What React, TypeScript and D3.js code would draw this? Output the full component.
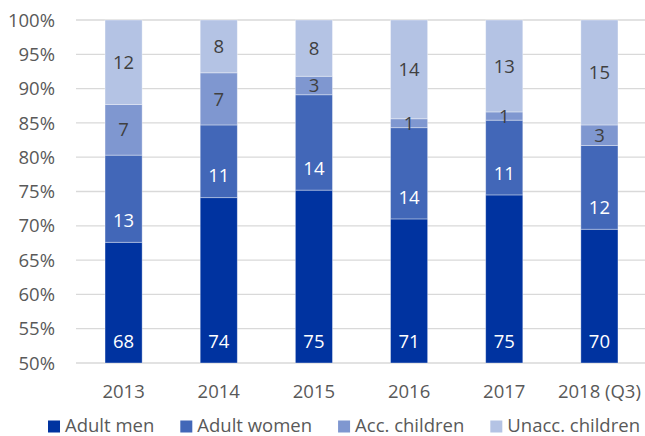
import * as d3 from "d3";
import { useRef, useEffect } from "react";

const years = ["2013", "2014", "2015", "2016", "2017", "2018 (Q3)"];
const keys = ["men", "women", "acc", "unacc"];
const seriesNames = ["Adult men", "Adult women", "Acc. children", "Unacc. children"];

// shares in %
const adultMen = [67.6, 74.1, 75.2, 71.0, 74.5, 69.5];
const adultWomen = [12.7, 10.6, 13.9, 13.3, 10.9, 12.2];
const accChildren = [7.4, 7.6, 2.7, 1.3, 1.2, 3.0];
const unaccChildren = [12.3, 7.7, 8.2, 14.4, 13.4, 15.3];

// printed labels
const menLabels = [68, 74, 75, 71, 75, 70];
const womenLabels = [13, 11, 14, 14, 11, 12];
const accLabels = [7, 7, 3, 1, 1, 3];
const unaccLabels = [12, 8, 8, 14, 13, 15];

const yTicks = [0.5, 0.55, 0.6, 0.65, 0.7, 0.75, 0.8, 0.85, 0.9, 0.95, 1];

const colors = ["#0033a0", "#4267b8", "#7f97d0", "#b4c3e4"];
const labelColors = ["#ffffff", "#ffffff", "#404040", "#404040"];
const font = "'Open Sans', sans-serif";
const fs = 18.5;

export default function App() {
  const width = 645;
  const height = 436;
  const marginLeft = 76;
  const marginRight = -2;
  const marginTop = 20;
  const marginBottom = 73;
  const legendRef = useRef<SVGGElement>(null);

  const rows = years.map((y, i) => ({
    year: y,
    men: adultMen[i],
    women: adultWomen[i],
    acc: accChildren[i],
    unacc: unaccChildren[i],
  }));
  const labels = [menLabels, womenLabels, accLabels, unaccLabels];

  const stack = d3.stack<any>().keys(keys).offset(d3.stackOffsetExpand);
  const series = stack(rows);

  const x = d3
    .scaleBand()
    .domain(years)
    .range([marginLeft, width - marginRight])
    .paddingInner(0.61)
    .paddingOuter(0.305);

  const y = d3
    .scaleLinear()
    .domain([0.5, 1])
    .range([height - marginBottom, marginTop])
    .clamp(true);

  const fmt = d3.format(".0%");

  useEffect(() => {
    const g = d3.select(legendRef.current);
    g.selectAll("*").remove();
    const items = g
      .selectAll("g")
      .data(seriesNames)
      .join("g");
    items
      .append("rect")
      .attr("width", 12)
      .attr("height", 12)
      .attr("y", -11.5)
      .attr("fill", (d, i) => colors[i]);
    items
      .append("text")
      .attr("x", 17)
      .attr("font-family", font)
      .attr("font-size", fs)
      .attr("fill", "#595959")
      .text((d) => d);
    const widths = items.nodes().map((n) => 17 + (n.querySelector("text") as SVGTextElement).getComputedTextLength());
    const gap = 26;
    const total = d3.sum(widths) + gap * (widths.length - 1);
    let cur = 344 - total / 2;
    items.attr("transform", (d, i) => {
      const t = `translate(${cur},0)`;
      cur += widths[i] + gap;
      return t;
    });
  }, []);

  return (
    <svg width={width} height={height} style={{ position: "absolute", left: 0, top: 0 }}>
      <rect width={width} height={height} fill="white" />
      <g>
        {yTicks.map((t) => (
          <g key={t}>
            <line x1={marginLeft} x2={width} y1={y(t)} y2={y(t)} stroke="#d9d9d9" strokeWidth={1.3} />
            <text
              x={55}
              y={y(t)}
              dy="0.36em"
              textAnchor="end"
              fontFamily={font}
              fontSize={fs}
              fill="#595959"
            >
              {fmt(t)}
            </text>
          </g>
        ))}
      </g>
      {series.map((s, si) => (
        <g key={s.key} fill={colors[si]}>
          {s.map((d, i) => {
            const y0 = y(d[0]);
            const y1 = y(d[1]);
            if (y0 - y1 <= 0) return null;
            return (
              <rect
                key={i}
                x={x(years[i])}
                width={x.bandwidth()}
                y={y1}
                height={y0 - y1}
                stroke="#ffffff"
                strokeOpacity={0.45}
                strokeWidth={0.8}
              />
            );
          })}
        </g>
      ))}
      {series.map((s, si) => (
        <g key={s.key + "-lab"}>
          {s.map((d, i) => {
            const y0 = y(d[0]);
            const y1 = y(d[1]);
            const cy = si < 2 ? y0 - 22 : (y0 + y1) / 2;
            return (
              <text
                key={i}
                x={(x(years[i]) as number) + x.bandwidth() / 2}
                y={cy}
                dy="0.36em"
                textAnchor="middle"
                fontFamily={font}
                fontSize={fs}
                fill={labelColors[si]}
              >
                {labels[si][i]}
              </text>
            );
          })}
        </g>
      ))}
      <g>
        {years.map((yr) => (
          <text
            key={yr}
            x={(x(yr) as number) + x.bandwidth() / 2}
            y={398}
            textAnchor="middle"
            fontFamily={font}
            fontSize={fs}
            fill="#595959"
          >
            {yr}
          </text>
        ))}
      </g>
      <g ref={legendRef} transform="translate(0,432)" />
    </svg>
  );
}
